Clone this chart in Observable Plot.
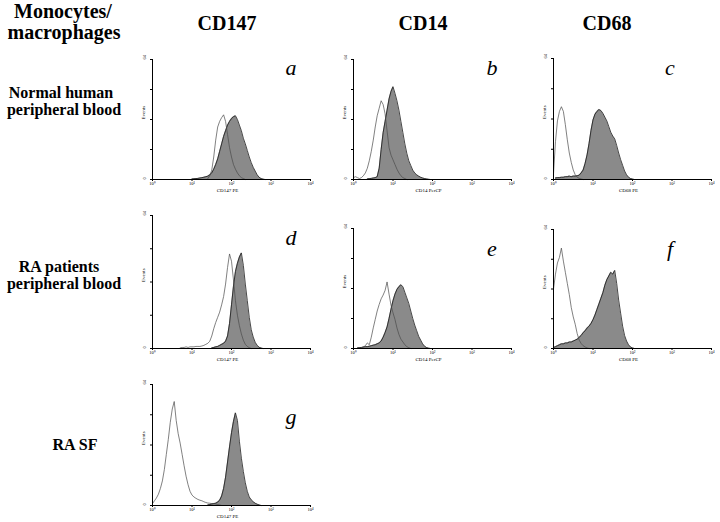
<!DOCTYPE html>
<html><head><meta charset="utf-8">
<script src="https://cdn.jsdelivr.net/npm/d3@7"></script>
<script src="https://cdn.jsdelivr.net/npm/@observablehq/plot@0.6"></script>
<style>
html,body{margin:0;padding:0;background:#fff;}
#root{position:relative;width:720px;height:522px;overflow:hidden;}
#root svg{position:absolute;}
</style>
</head><body><div id="root"></div>
<script>
// ---- Data (histogram counts on 0.05-decade channel grid, starting at log10 position "Start") ----
const STEP = 0.05;
const aOpenStart = 1.40;
const aOpen = [0.5, 2, 5, 12, 21, 28, 31, 33, 34.5, 31, 24, 17, 12, 8, 5.5, 3.5, 2, 1, 0.5, 0];
const aFillStart = 1.0;
const aFill = [0.3, 0.4, 0.5, 0.6, 0.8, 1, 1.2, 1.5, 1.8, 2.5, 3.5, 5.5, 8, 11, 15, 19, 23, 26, 29, 31, 32.5, 33.5, 34, 32, 29, 26, 22, 19, 15.5, 12, 9, 6.5, 4.5, 2.5, 1.2, 0.5, 0.2, 0];
const bOpenStart = 0;
const bOpen = [1, 1.5, 1, 0.5, 1, 2, 3.5, 6, 10, 15, 21, 28, 34, 38, 42, 40, 35, 26, 17, 13, 10.5, 8, 5.5, 3.5, 2, 1, 0.5, 0];
const bFillStart = 0.35;
const bFill = [0.3, 0.5, 0.6, 0.8, 1, 1.5, 6, 16, 25, 31, 37, 43, 47, 49.5, 46, 42, 37, 31, 25, 19, 14, 10, 7.5, 5, 3.5, 2.5, 1.8, 1.2, 0.8, 0.5, 0.3, 0.1, 0];
const cOpenStart = 0;
const cOpen = [3, 20, 31, 36, 38.5, 36, 29, 21, 14, 9, 5, 2.5, 1.2, 0.6, 0.3, 0];
const cFillStart = 0.05;
const cFill = [0.8, 1, 1, 1.2, 1.2, 1.5, 1.5, 1.8, 1.5, 1.8, 1.8, 2, 2.3, 3.5, 5, 8.5, 13, 19, 26, 31.5, 34.5, 36, 37, 36.5, 35, 33, 31, 28, 25, 23, 21.5, 18, 14, 10.5, 7.5, 4.5, 2.5, 1.2, 0.5, 0.2, 0];
const dOpenStart = 0.7;
const dOpen = [0.3, 0.5, 0.5, 0.8, 0.5, 0.8, 0.8, 0.8, 1, 1, 1, 1.2, 1.5, 2, 2.5, 3.5, 6, 9.5, 12.5, 15, 17.5, 21, 25, 31, 39, 45.5, 42, 33, 23, 16, 11, 7, 4, 2, 1, 0.4, 0];
const dFillStart = 1.5;
const dFill = [0.3, 0.5, 0.8, 1, 1.5, 2, 2.5, 3.5, 6, 12, 21, 30, 37, 41, 44, 46, 40, 31, 23, 15, 9, 5.5, 3, 1.5, 0.6, 0.2, 0];
const eOpenStart = 0.2;
const eOpen = [0.3, 0.8, 1.5, 3, 2, 6, 11, 15.5, 20, 23.5, 26.5, 28.5, 31, 35.5, 29, 23, 19, 15.5, 11, 7.5, 5, 3.5, 2, 1, 0.4, 0];
const eFillStart = 0.1;
const eFill = [0.3, 0.5, 0.5, 0.8, 1, 1, 1.2, 1.5, 1.8, 2, 2.5, 3, 4, 6, 8.5, 11.5, 16, 21, 25.5, 29, 31.5, 33, 34, 33, 30, 27, 24, 20, 16, 12.5, 9.5, 6.5, 4.5, 2.5, 1.2, 0.5, 0.2, 0];
const fOpenStart = 0;
const fOpen = [32, 40, 46, 49, 54, 47, 41, 35, 29, 22, 17, 13, 8, 4.5, 2.7, 1.5, 0.8, 0.3, 0];
const fFillStart = 0;
const fFill = [0.5, 1, 1.5, 2, 2.5, 2.5, 3, 3, 3.5, 3.5, 4, 4.5, 5, 6, 7, 8.5, 9.5, 11, 12, 13.5, 15.5, 18, 21, 24, 27, 30, 34, 37, 39, 41, 40, 42, 35, 26, 19, 12, 7, 4, 2, 0.8, 0.3, 0];
const gOpenStart = 0;
const gOpen = [1, 2.5, 4, 6, 9, 13, 19, 27, 35, 44, 51, 55, 45, 38, 33, 27, 21, 15.5, 11, 7.5, 5.5, 4.5, 3.8, 3.2, 2.8, 2.5, 2, 1.6, 1.3, 1.2, 1, 1, 0.8, 0.5, 0.3, 0];
const gFillStart = 1.4;
const gFill = [0.3, 0.5, 0.8, 1, 1.2, 1.8, 2.8, 5, 9, 15, 23, 31, 38.5, 44.5, 49, 45, 34, 25, 18, 12, 7.5, 4.5, 3, 2, 1.2, 0.7, 0.3, 0];

const xTickValues = [1, 10, 100, 1000, 10000];
const xTickLabels = ["10\u2070", "10\u00b9", "10\u00b2", "10\u00b3", "10\u2074"];
const yTickValues = [0, 16, 32, 48, 64];
const yLabelValues = [0, 64];
const columnTitles = ["CD147", "CD14", "CD68"];
const xAxisLabels = ["CD147 PE", "CD14 PerCP", "CD68 PE"];
const panelLetters = ["a", "b", "c", "d", "e", "f", "g"];
const rowLabels = [["Normal human", "peripheral blood"], ["RA patients", "peripheral blood"], ["RA SF"]];
const cornerTitle = ["Monocytes/", "macrophages"];

function rows(start, counts) {
  return counts.map((c, i) => ({x: Math.pow(10, start + i * STEP), y: c}));
}

const root = document.getElementById("root");
const SERIF = "'Liberation Serif', 'Times New Roman', serif";

// ---- Panel layout (pixel geometry) ----
const panels = [
  {letter: 0, col: 0, ax: 152, top: 59, bottom: 179, ly: 75, open: [aOpenStart, aOpen], fill: [aFillStart, aFill]},
  {letter: 1, col: 1, ax: 352.5, top: 59, bottom: 179, ly: 75, open: [bOpenStart, bOpen], fill: [bFillStart, bFill]},
  {letter: 2, col: 2, ax: 553, top: 58, bottom: 179, ly: 75, open: [cOpenStart, cOpen], fill: [cFillStart, cFill]},
  {letter: 3, col: 0, ax: 152, top: 215, bottom: 348, ly: 245, open: [dOpenStart, dOpen], fill: [dFillStart, dFill]},
  {letter: 4, col: 1, ax: 352.5, top: 228, bottom: 348, ly: 256, open: [eOpenStart, eOpen], fill: [eFillStart, eFill]},
  {letter: 5, col: 2, ax: 553, top: 229, bottom: 348, ly: 256, open: [fOpenStart, fOpen], fill: [fFillStart, fFill]},
  {letter: 6, col: 0, ax: 152, top: 384, bottom: 505, ly: 424, open: [gOpenStart, gOpen], fill: [gFillStart, gFill]}
];
const letterX = [291, 492, 670];

const mL = 14, mR = 4, mT = 6, mB = 17, innerW = 158;

for (const p of panels) {
  const fill = rows(p.fill[0], p.fill[1]);
  const open = rows(p.open[0], p.open[1]);
  const innerH = p.bottom - p.top;
  const plot = Plot.plot({
    width: mL + innerW + mR,
    height: mT + innerH + mB,
    marginLeft: mL, marginRight: mR, marginTop: mT, marginBottom: mB,
    x: {type: "log", domain: [1, 10000]},
    y: {domain: [0, 64]},
    style: {fontFamily: SERIF, background: "transparent", overflow: "visible", color: "#000"},
    marks: [
      Plot.areaY(fill, {x: "x", y: "y", fill: "#8a8a8a"}),
      Plot.lineY(fill, {x: "x", y: "y", stroke: "#1a1a1a", strokeWidth: 0.8}),
      Plot.lineY(open, {x: "x", y: "y", stroke: "#4a4a4a", strokeWidth: 0.7}),
      Plot.ruleY([0], {stroke: "#000", strokeWidth: 1}),
      Plot.ruleX([1], {y1: 0, y2: 64, stroke: "#000", strokeWidth: 1}),
      Plot.axisX({ticks: xTickValues, tickFormat: d => xTickLabels[xTickValues.indexOf(d)], tickSize: 2, tickPadding: 0, fontSize: 4.5, fill: "#000", label: null}),
      Plot.axisY({ticks: yTickValues, tickFormat: () => "", tickSize: 2, label: null}),
      Plot.text(yLabelValues, {frameAnchor: "left", y: d => d, text: d => String(d), rotate: -90, dx: -8, fontSize: 4.5, fill: "#000"}),
      Plot.text(["Events"], {frameAnchor: "left", rotate: -90, dx: -9, fontSize: 5, fill: "#000"}),
      Plot.text([xAxisLabels[p.col]], {frameAnchor: "bottom", dy: 12.5, dx: -4, fontSize: 5, fill: "#000"})
    ]
  });
  plot.style.left = (p.ax - mL) + "px";
  plot.style.top = (p.top - mT) + "px";
  root.appendChild(plot);
}

// ---- Titles, row labels and panel letters ----
const svg = d3.create("svg").attr("width", 720).attr("height", 522)
  .style("left", "0px").style("top", "0px").style("font-family", SERIF);
const colX = [227, 423, 607];
columnTitles.forEach((t, i) => svg.append("text").attr("x", colX[i]).attr("y", 30)
  .attr("text-anchor", "middle").attr("font-weight", "bold").attr("font-size", 20).text(t));
svg.append("text").attr("x", 63).attr("y", 18).attr("text-anchor", "middle").attr("font-weight", "bold").attr("font-size", 20).text(cornerTitle[0]);
svg.append("text").attr("x", 64).attr("y", 39).attr("text-anchor", "middle").attr("font-weight", "bold").attr("font-size", 20).text(cornerTitle[1]);
const rowY = [[98, 115], [272, 289], [450]];
const rowX = [[61, 64], [59, 64], [75]];
rowLabels.forEach((lines, r) => lines.forEach((t, k) => svg.append("text")
  .attr("x", rowX[r][k]).attr("y", rowY[r][k]).attr("text-anchor", "middle")
  .attr("font-weight", "bold").attr("font-size", 16).text(t)));
panels.forEach(p => svg.append("text").attr("x", letterX[p.col]).attr("y", p.ly)
  .attr("text-anchor", "middle").attr("font-style", "italic").attr("font-size", 22).text(panelLetters[p.letter]));
root.appendChild(svg.node());
</script>
</body></html>
